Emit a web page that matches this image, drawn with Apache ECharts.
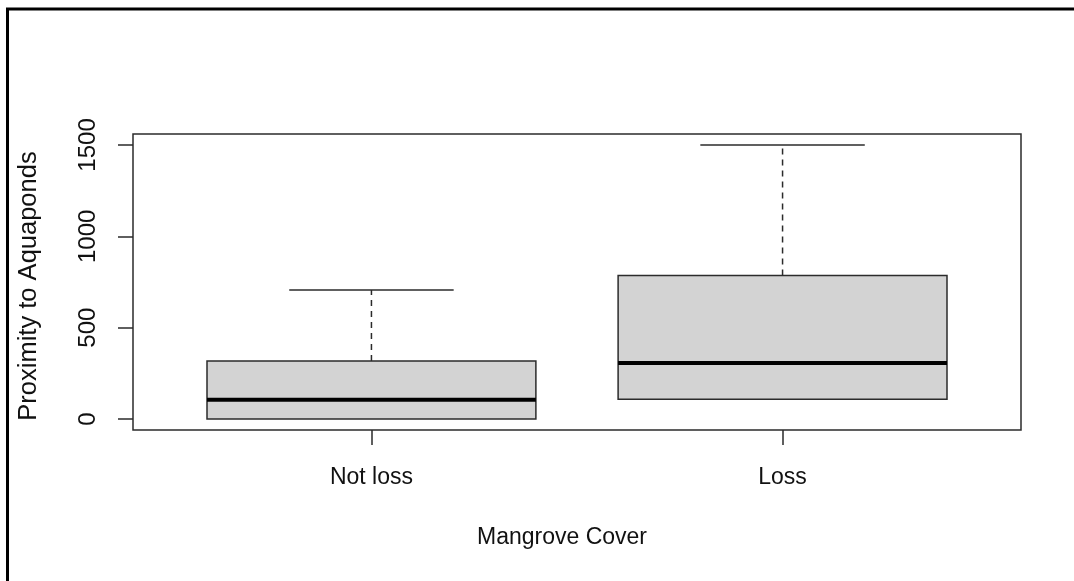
<!DOCTYPE html>
<html>
<head>
<meta charset="utf-8">
<script src="https://cdn.jsdelivr.net/npm/echarts@6/dist/echarts.min.js"></script>
<style>
html,body{margin:0;padding:0;background:#fff;}
#chart{width:1074px;height:581px;}
</style>
</head>
<body>
<div id="chart"></div>
<script>
// Data
const categories = ['Not loss', 'Loss'];
const positions = [1, 2];
const mins = [0, 108];
const q1s = [0, 108];
const medians = [106, 307];
const q3s = [318, 785];
const maxs = [706, 1500];
const yTicks = [0, 500, 1000, 1500];

const FONT = '"Liberation Sans", Arial, sans-serif';
const boxData = positions.map((p, i) => [p, mins[i], q1s[i], medians[i], q3s[i], maxs[i]]);

const chart = echarts.init(document.getElementById('chart'), null, {renderer: 'canvas'});

function renderBox(params, api) {
  const x = api.value(0);
  const vMin = api.value(1), vQ1 = api.value(2), vMed = api.value(3), vQ3 = api.value(4), vMax = api.value(5);
  const hw = 0.4, cw = 0.2;
  const pQ1L = api.coord([x - hw, vQ1]);
  const pQ3R = api.coord([x + hw, vQ3]);
  const pMedL = api.coord([x - hw, vMed]);
  const pMedR = api.coord([x + hw, vMed]);
  const pMax = api.coord([x, vMax]);
  const pMin = api.coord([x, vMin]);
  const pQ3 = api.coord([x, vQ3]);
  const pQ1 = api.coord([x, vQ1]);
  const capL = api.coord([x - cw, vMax]);
  const capR = api.coord([x + cw, vMax]);
  const capLm = api.coord([x - cw, vMin]);
  const capRm = api.coord([x + cw, vMin]);
  const dark = '#2b2b2b';
  const children = [
    {type: 'line', shape: {x1: pQ3[0], y1: pQ3[1], x2: pMax[0], y2: pMax[1]},
     style: {stroke: dark, lineWidth: 1.5, lineDash: [6, 5]}},
    {type: 'line', shape: {x1: capL[0], y1: capL[1], x2: capR[0], y2: capR[1]},
     style: {stroke: dark, lineWidth: 1.5}},
    {type: 'rect', shape: {x: pQ1L[0], y: pQ3R[1], width: pQ3R[0] - pQ1L[0], height: pQ1L[1] - pQ3R[1]},
     style: {fill: '#d3d3d3', stroke: dark, lineWidth: 1.5}},
    {type: 'line', shape: {x1: pMedL[0], y1: pMedL[1], x2: pMedR[0], y2: pMedR[1]},
     style: {stroke: '#000', lineWidth: 4}}
  ];
  if (pMin[1] - pQ1[1] > 0.5) {
    children.unshift(
      {type: 'line', shape: {x1: pQ1[0], y1: pQ1[1], x2: pMin[0], y2: pMin[1]},
       style: {stroke: dark, lineWidth: 1.5, lineDash: [6, 5]}},
      {type: 'line', shape: {x1: capLm[0], y1: capLm[1], x2: capRm[0], y2: capRm[1]},
       style: {stroke: dark, lineWidth: 1.5}}
    );
  }
  return {type: 'group', children: children};
}

const option = {
  backgroundColor: '#fff',
  animation: false,
  grid: {left: 133, top: 134, right: 53, bottom: 151, show: true, borderColor: '#2b2b2b', borderWidth: 1.5, backgroundColor: 'transparent'},
  xAxis: {
    type: 'value', min: 0.42, max: 2.58,
    axisLine: {show: false, onZero: false},
    splitLine: {show: false},
    axisTick: {show: true, inside: false, customValues: positions, length: 15, lineStyle: {color: '#2b2b2b', width: 1.5}},
    axisLabel: {show: true, customValues: positions, margin: 36, color: '#111', fontFamily: FONT, fontSize: 23,
      formatter: v => categories[positions.indexOf(Math.round(v))] || ''}
  },
  yAxis: {
    type: 'value', min: -60, max: 1560,
    axisLine: {show: false, onZero: false},
    splitLine: {show: false},
    axisTick: {show: true, inside: false, customValues: yTicks, length: 15, lineStyle: {color: '#2b2b2b', width: 1.5}},
    axisLabel: {show: true, customValues: yTicks, rotate: 90, margin: 33, color: '#111', fontFamily: FONT, fontSize: 24,
      formatter: v => String(Math.round(v))}
  },
  graphic: [
    {type: 'rect', shape: {x: 7.5, y: 9, width: 1200, height: 700}, style: {fill: 'none', stroke: '#000', lineWidth: 3}, silent: true},
    {type: 'text', x: 562, y: 538, style: {text: 'Mangrove Cover', font: '23px ' + FONT, fill: '#111', textAlign: 'center', textVerticalAlign: 'middle'}},
    {type: 'text', x: 29, y: 286, rotation: Math.PI / 2, style: {text: 'Proximity to Aquaponds', font: '25.5px ' + FONT, fill: '#111', textAlign: 'center', textVerticalAlign: 'middle'}}
  ],
  series: [{
    type: 'custom',
    name: 'Proximity',
    data: boxData,
    encode: {x: 0, y: [1, 2, 3, 4, 5]},
    renderItem: renderBox,
    clip: false
  }]
};
chart.setOption(option);
</script>
</body>
</html>
